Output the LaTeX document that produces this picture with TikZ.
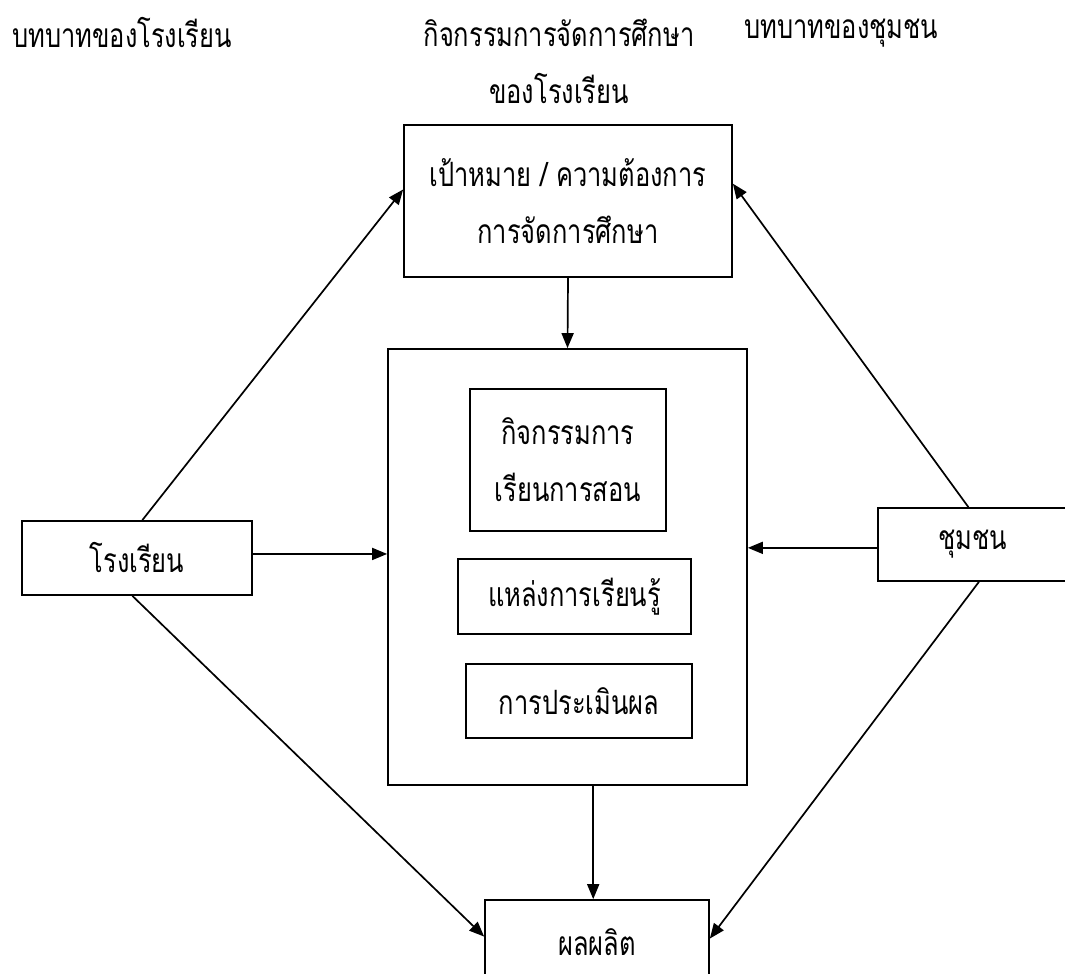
\documentclass[tikz,border=0pt]{standalone}
\usepackage{fontspec}
\newfontfamily\thaifont[Script=Thai,FakeStretch=0.76]{Loma}
\usepackage{tikz}
\usetikzlibrary{arrows.meta}

\begin{document}
\begin{tikzpicture}[x=1pt, y=-1pt, line width=1.7pt,
        font=\thaifont\fontsize{33.5}{57}\selectfont,
        box/.style={draw, rectangle, align=center, inner sep=0pt},
        arr/.style={-{Triangle[length=15pt, width=12pt]}}]
    \useasboundingbox (0,0) rectangle (1065,974);

    \node[anchor=west] (roleschool) at (8,33) {บทบาทของโรงเรียน};
    \node[align=center] (rolemid) at (559,61) {กิจกรรมการจัดการศึกษา\\ของโรงเรียน};
    \node[anchor=west] (rolecomm) at (740,33) {บทบาทของชุมชน};

    \node[box, minimum width=328pt, minimum height=152pt] (goal) at (568,201) {เป้าหมาย / ความต้องการ\\การจัดการศึกษา};
    \node[box, minimum width=359pt, minimum height=436pt] (core) at (567.5,567) {};
    \node[box, minimum width=196pt, minimum height=142pt] (teach) at (568,460) {กิจกรรมการ\\เรียนการสอน};
    \node[box, minimum width=233pt, minimum height=75pt] (source) at (574.5,596.5) {แหล่งการเรียนรู้};
    \node[box, minimum width=226pt, minimum height=74pt] (assess) at (579,701) {การประเมินผล};
    \node[box, minimum width=230pt, minimum height=74pt] (school) at (137,558) {โรงเรียน};
    \node[box, minimum width=190pt, minimum height=73pt] (comm) at (973,544.5) {ชุมชน};
    \node[box, minimum width=224pt, minimum height=85pt] (product) at (597,942.5) {ผลผลิต};

    \draw[arr] (goal.south) -- (core.north);
    \draw[arr] (school.82.3) -- (goal.176.5);
    \draw[arr] (comm.97.8) -- (goal.6.6);
    \draw[arr] (school.2.5) -- (school.2.5 -| core.west);
    \draw[arr] (comm.182) -- (comm.182 -| core.east);
    \draw[arr] (product.95 |- core.south) -- (product.95);
    \draw[arr] (school.263.8) -- (product.177.7);
    \draw[arr] (comm.279.3) -- (product.2.8);
\end{tikzpicture}
\end{document}
